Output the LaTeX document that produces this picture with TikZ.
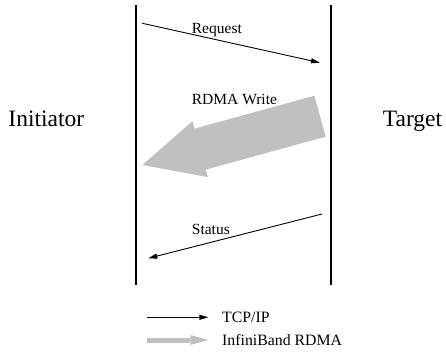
\documentclass[tikz,border=0pt]{standalone}
\usepackage{fontspec}
\setmainfont{Liberation Serif}
\usetikzlibrary{arrows.meta,calc}
\definecolor{rdmagray}{RGB}{192,192,192}
\begin{document}
\begin{tikzpicture}[x=1pt,y=-1pt,
  lifeline/.style={line width=2.3pt},
  msg/.style={line width=0.9pt,-{Triangle[length=9pt,width=5pt]}},
  bulkkey/.style={rdmagray,line width=5pt,-{Triangle[length=18pt,width=10pt,line width=0pt]}},
  lbl/.style={anchor=base west,inner sep=0pt,font=\fontsize{15.5}{18}\selectfont},
  keylbl/.style={anchor=base west,inner sep=0pt,font=\fontsize{15.8}{18}\selectfont},
  party/.style={anchor=base west,inner sep=0pt,font=\fontsize{23.5}{28}\selectfont}]
\useasboundingbox (0,0) rectangle (446,351);

% lifelines
\coordinate (iTop) at (136.3,5);
\coordinate (iBot) at (136.3,285);
\coordinate (tTop) at (331,5);
\coordinate (tBot) at (331,285);
\draw[lifeline] (iTop) -- (iBot);
\draw[lifeline] (tTop) -- (tBot);

% parties
\node[party] (initiator) at (8.3,126.7) {Initiator};
\node[party] (target) at (382.7,126.7) {Target};

% request over TCP/IP
\coordinate (reqFrom) at (142.3,23.3);
\coordinate (reqTo) at (320,62.7);
\draw[msg] (reqFrom) -- (reqTo);
\node[lbl] (reqLbl) at (191.7,33.3) {Request};

% bulk data transfer over RDMA: one filled block arrow from tail to tip
\coordinate (rdmaFrom) at (320,116.2);
\coordinate (rdmaTo) at (142.3,165);
\coordinate (rdmaNeck) at ($(rdmaTo)!60pt!(rdmaFrom)$);
\fill[rdmagray]
  (rdmaTo)
  -- ($(rdmaNeck)!29pt!90:(rdmaTo)$)
  -- ($(rdmaNeck)!21.25pt!90:(rdmaTo)$)
  -- ($(rdmaFrom)!21.25pt!90:(rdmaTo)$)
  -- ($(rdmaFrom)!21.25pt!-90:(rdmaTo)$)
  -- ($(rdmaNeck)!21.25pt!-90:(rdmaTo)$)
  -- ($(rdmaNeck)!29pt!-90:(rdmaTo)$)
  -- cycle;
\node[lbl] (rdmaLbl) at (191.7,104.5) {RDMA Write};

% status reply over TCP/IP
\coordinate (stFrom) at (322,214);
\coordinate (stTo) at (148.3,258.3);
\draw[msg] (stFrom) -- (stTo);
\node[lbl] (stLbl) at (191.7,234.3) {Status};

% legend
\coordinate (k1a) at (147,317.3);
\coordinate (k1b) at (208.3,317.3);
\draw[msg] (k1a) -- (k1b);
\node[keylbl] (k1Lbl) at (222,322.5) {TCP/IP};
\coordinate (k2a) at (147,340);
\coordinate (k2b) at (208.3,340);
\draw[bulkkey] (k2a) -- (k2b);
\node[keylbl] (k2Lbl) at (222,345) {InfiniBand RDMA};
\end{tikzpicture}
\end{document}
